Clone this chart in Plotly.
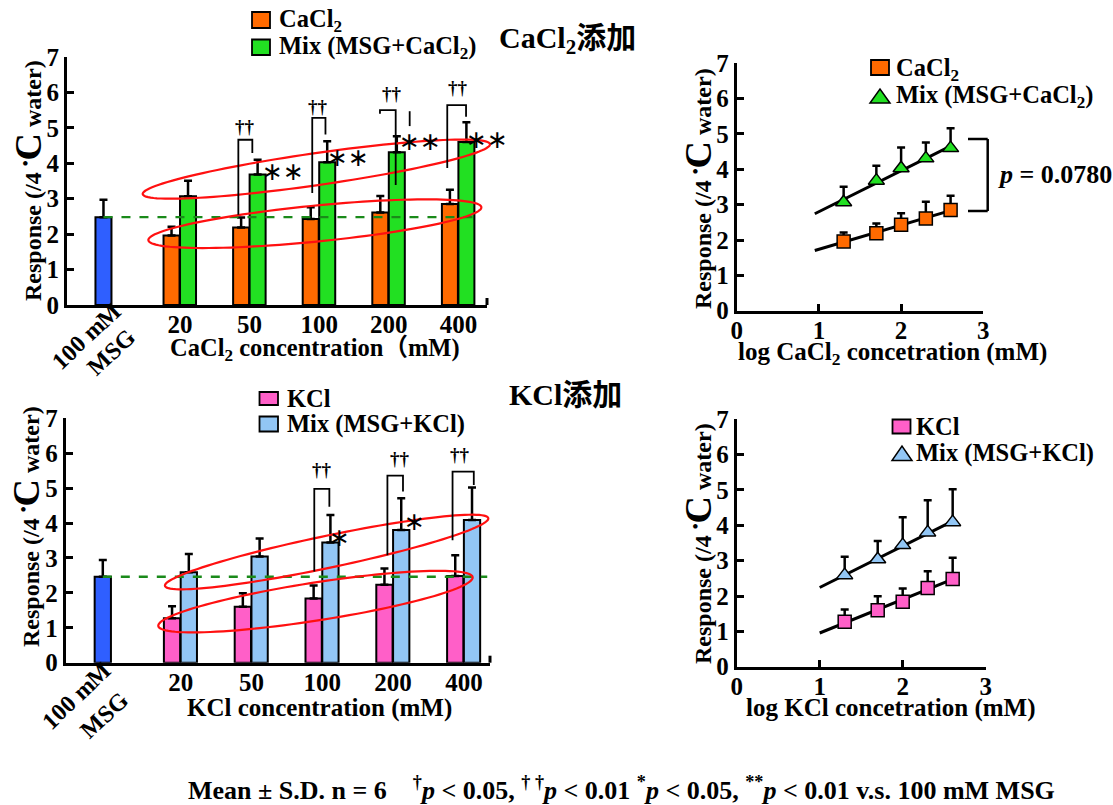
import numpy as np
import plotly.graph_objects as go

W, H = 1113, 805
FONT = "Liberation Serif, Times New Roman, Noto Sans CJK JP, serif"
STARFONT = "DejaVu Sans, Liberation Sans, sans-serif"

# ---------------- data ----------------
conc_labels = ["20", "50", "100", "200", "400"]
conc_mM = [20, 50, 100, 200, 400]
msg_label_lines = ["100 mM", "MSG"]

msg_ca_mean, msg_ca_sd = 2.48, 0.49
cacl2_mean = [1.96, 2.19, 2.43, 2.61, 2.85]
cacl2_sd = [0.25, 0.28, 0.33, 0.47, 0.40]
mix_ca_mean = [3.07, 3.68, 4.03, 4.31, 4.60]
mix_ca_sd = [0.44, 0.42, 0.59, 0.45, 0.56]

msg_k_mean, msg_k_sd = 2.46, 0.48
kcl_mean = [1.27, 1.60, 1.84, 2.23, 2.48]
kcl_sd = [0.35, 0.39, 0.37, 0.47, 0.60]
mix_k_mean = [2.59, 3.04, 3.44, 3.80, 4.09]
mix_k_sd = [0.52, 0.52, 0.79, 0.91, 0.93]

ca_dagger = ["", "††", "††", "††", "††"]
ca_star = ["", "∗∗", "∗∗", "∗∗", "∗∗"]
k_dagger = ["", "", "††", "††", "††"]
k_star = ["", "", "∗", "∗", "∗∗"]
p_value_ca = "0.0780"

# ---------------- colours ----------------
C_MSG = "#2f5fff"
C_CA = "#ff6a00"
C_MIXCA = "#22e022"
C_K = "#ff5fc8"
C_MIXK = "#92c6f5"

# ---------------- panel geometry (pixels) ----------------
panels = {
    "tl": dict(px=(67, 487), py=(305, 57), xr=(-0.624, 5.411), yr=(0, 7), ax=("x", "y")),
    "tr": dict(px=(736.7, 983.3), py=(310.7, 63.3), xr=(0, 3), yr=(0, 7), ax=("x2", "y2")),
    "bl": dict(px=(65.7, 490), py=(662.7, 418.3), xr=(-0.624, 5.369), yr=(0, 7), ax=("x3", "y3")),
    "br": dict(px=(736.7, 985.7), py=(666.7, 419.3), xr=(0, 3), yr=(0, 7), ax=("x4", "y4")),
}


def d2px(p, x, y):
    P = panels[p]
    xp = P["px"][0] + (x - P["xr"][0]) / (P["xr"][1] - P["xr"][0]) * (P["px"][1] - P["px"][0])
    yp = P["py"][0] + (y - P["yr"][0]) / (P["yr"][1] - P["yr"][0]) * (P["py"][1] - P["py"][0])
    return xp, yp


def px2paper(xp, yp):
    return xp / W, 1 - yp / H


fig = go.Figure()
shapes = []
annotations = []


def ann(text, x, y, size=25, xref="paper", yref="paper", xanchor="center", yanchor="middle",
        angle=0, family=FONT, bold=True):
    if xref == "paper":
        x, y = px2paper(x, y)
    annotations.append(dict(text=text, x=x, y=y, xref=xref, yref=yref, xanchor=xanchor,
                            yanchor=yanchor, showarrow=False, textangle=angle,
                            font=dict(size=size, family=family, color="black",
                                      weight="bold" if bold else "normal")))


CHAR_W = {"1": 0.5, "0": 0.5, " ": 0.25, "m": 0.833, "M": 0.944, "S": 0.556, "G": 0.778}


def diag_text(text, cx, cy, size, angle_deg):
    """Slanted label: each glyph placed (and turned) along a rising baseline."""
    th = np.radians(angle_deg)
    d = np.array([np.cos(th), -np.sin(th)])
    adv = [CHAR_W.get(c, 0.55) * size for c in text]
    s = -sum(adv) / 2
    for c, a in zip(text, adv):
        mid = s + a / 2
        s += a
        if c == " ":
            continue
        ann(c, cx + mid * d[0], cy + mid * d[1], size=size, angle=-angle_deg)


def line_px(x0, y0, x1, y1, color="black", width=2, dash=None):
    a, b = px2paper(x0, y0)
    c, d = px2paper(x1, y1)
    shapes.append(dict(type="line", xref="paper", yref="paper", x0=a, y0=b, x1=c, y1=d,
                       line=dict(color=color, width=width, dash=dash)))


def ellipse(p, left, right, b):
    x0, y0 = d2px(p, *left)
    x1, y1 = d2px(p, *right)
    cx, cy = (x0 + x1) / 2, (y0 + y1) / 2
    a = np.hypot(x1 - x0, y1 - y0) / 2
    th = np.arctan2(y1 - y0, x1 - x0)
    t = np.linspace(0, 2 * np.pi, 120)
    xs = cx + a * np.cos(t) * np.cos(th) - b * np.sin(t) * np.sin(th)
    ys = cy + a * np.cos(t) * np.sin(th) + b * np.sin(t) * np.cos(th)
    pts = [px2paper(u, v) for u, v in zip(xs, ys)]
    path = "M " + " L ".join(f"{u:.5f},{v:.5f}" for u, v in pts) + " Z"
    shapes.append(dict(type="path", xref="paper", yref="paper", path=path,
                       line=dict(color="#ff1010", width=2.2)))


def bracket(p, xl, xr, top, lb, rb):
    xa, ya = panels[p]["ax"]
    path = f"M {xl},{lb} L {xl},{top} L {xr},{top} L {xr},{rb}"
    shapes.append(dict(type="path", xref=xa, yref=ya, path=path, line=dict(color="black", width=1.8)))


def err(sd):
    return dict(type="data", symmetric=False, array=sd, arrayminus=[0] * len(sd),
                color="black", thickness=2.5, width=4)


# ---------------- bar panels ----------------
pos = np.arange(1, 6)
msg_pos = -0.1


def bar_panel(p, msg_m, msg_s, a_m, a_s, b_m, b_s, ca, cb):
    xa, ya = panels[p]["ax"]
    fig.add_trace(go.Bar(x=[msg_pos], y=[msg_m], width=0.23, marker=dict(color=C_MSG, line=dict(color="black", width=2)),
                         error_y=err([msg_s]), xaxis=xa, yaxis=ya))
    fig.add_trace(go.Bar(x=pos - 0.122, y=a_m, width=0.23, marker=dict(color=ca, line=dict(color="black", width=2)),
                         error_y=err(a_s), xaxis=xa, yaxis=ya))
    fig.add_trace(go.Bar(x=pos + 0.115, y=b_m, width=0.23, marker=dict(color=cb, line=dict(color="black", width=2)),
                         error_y=err(b_s), xaxis=xa, yaxis=ya))
    shapes.append(dict(type="line", xref=xa, yref=ya, x0=msg_pos, x1=5.33, y0=msg_m, y1=msg_m,
                       line=dict(color="#1a8a1a", width=2.4, dash="dash"), layer="above"))


bar_panel("tl", msg_ca_mean, msg_ca_sd, cacl2_mean, cacl2_sd, mix_ca_mean, mix_ca_sd, C_CA, C_MIXCA)
bar_panel("bl", msg_k_mean, msg_k_sd, kcl_mean, kcl_sd, mix_k_mean, mix_k_sd, C_K, C_MIXK)

# slanted control-bar labels
diag_text(msg_label_lines[0], 86.5, 336, 24, 43.5)
diag_text(msg_label_lines[1], 111, 352, 24, 43.5)
diag_text(msg_label_lines[0], 76.5, 695.5, 24, 43.5)
diag_text(msg_label_lines[1], 104, 715, 24, 43.5)

# ellipses
ellipse("tl", (0.464, 3.13), (5.454, 4.54), 16)
ellipse("tl", (0.545, 1.83), (5.33, 2.76), 18)
ellipse("bl", (0.778, 2.20), (5.345, 4.14), 16)
ellipse("bl", (0.684, 1.05), (5.124, 2.45), 19)

# significance brackets
bracket("tl", 1.838, 2.039, 4.665, 2.545, 4.29)
bracket("tl", 2.90, 3.09, 5.28, 3.16, 4.81)
bracket("tl", 3.873, 4.099, 5.50, 5.40, 3.39)
shapes.append(dict(type="line", xref="x", yref="y", x0=4.30, x1=4.30, y0=5.47, y1=5.05,
                   line=dict(color="black", width=1.8)))
bracket("tl", 4.84, 5.11, 5.64, 3.87, 5.31)
for dg, st, dpos, spos in zip(ca_dagger, ca_star,
                              [None, (1.93, 5.04), (2.98, 5.61), (4.04, 5.98), (5.0, 6.13)],
                              [None, (2.48, 3.77), (3.42, 4.16), (4.45, 4.62), (5.41, 4.67)]):
    if dg:
        ann(dg, dpos[0], dpos[1], size=19, xref="x", yref="y")
    if st:
        ann(st, spos[0], spos[1], size=25, xref="x", yref="y", family=STARFONT, bold=False)

bracket("bl", 2.887, 3.10, 4.98, 2.61, 4.47)
bracket("bl", 3.92, 4.14, 5.36, 3.08, 4.90)
bracket("bl", 4.84, 5.14, 5.47, 3.51, 5.09)
for dg, st, dpos, spos in zip(k_dagger, k_star,
                              [None, None, (3.0, 5.52), (4.1, 5.85), (4.95, 5.95)],
                              [None, None, (3.25, 3.59), (4.3, 4.04), (5.44, 4.23)]):
    if dg:
        ann(dg, dpos[0], dpos[1], size=19, xref="x3", yref="y3")
    if st:
        ann(st, spos[0], spos[1], size=25, xref="x3", yref="y3", family=STARFONT, bold=False)

# right-end tick marks of bar x axes
line_px(487, 305, 487, 298, width=3)
line_px(490, 662.7, 490, 655.7, width=3)

# ---------------- scatter panels ----------------
logc = np.log10(conc_mM)


def scatter_panel(p, a_m, a_s, b_m, b_s, ca, cb, x0):
    xa, ya = panels[p]["ax"]
    for m, s, sym, col in ((a_m, a_s, "square", ca), (b_m, b_s, "triangle-up", cb)):
        k, c = np.polyfit(logc, m, 1)
        xl = np.array([x0, 2.62])
        fig.add_trace(go.Scatter(x=xl, y=k * xl + c, mode="lines", line=dict(color="black", width=3),
                                 xaxis=xa, yaxis=ya))
        fig.add_trace(go.Scatter(x=logc, y=m, mode="markers", error_y=err(s),
                                 marker=dict(symbol=sym, size=13 if sym == "square" else 14, color=col,
                                             line=dict(color="black", width=1.5)),
                                 xaxis=xa, yaxis=ya, cliponaxis=False))


scatter_panel("tr", cacl2_mean, cacl2_sd, mix_ca_mean, mix_ca_sd, C_CA, C_MIXCA, 0.95)
scatter_panel("br", kcl_mean, kcl_sd, mix_k_mean, mix_k_sd, C_K, C_MIXK, 1.0)

# p-value bracket
line_px(987.7, 139, 987.7, 211, width=2.5)
line_px(968, 139, 987.7, 139, width=2.5)
line_px(968, 211, 987.7, 211, width=2.5)
ann(f"<i>p</i> = {p_value_ca}", 996, 175, size=26, xanchor="left")


# ---------------- legends ----------------
def rect_px(x0, y0, x1, y1, color):
    a, b = px2paper(x0, y0)
    c, d = px2paper(x1, y1)
    shapes.append(dict(type="rect", xref="paper", yref="paper", x0=a, y0=b, x1=c, y1=d,
                       fillcolor=color, line=dict(color="black", width=1.8)))


def tri_px(x0, y0, x1, y1, color):
    pts = [px2paper(x0, y1), px2paper(x1, y1), px2paper((x0 + x1) / 2, y0)]
    path = "M " + " L ".join(f"{u:.5f},{v:.5f}" for u, v in pts) + " Z"
    shapes.append(dict(type="path", xref="paper", yref="paper", path=path,
                       fillcolor=color, line=dict(color="black", width=1.5)))


LEG = 24.5
rect_px(252, 12, 270, 28, C_CA)
rect_px(252, 39.5, 270, 55, C_MIXCA)
ann("CaCl<sub>2</sub>", 277, 21, size=LEG, xanchor="left")
ann("Mix (MSG+CaCl<sub>2</sub>)", 277, 48, size=LEG, xanchor="left")

rect_px(259.5, 392, 278, 405, C_K)
rect_px(259.5, 416.5, 278, 431.5, C_MIXK)
ann("KCl", 285, 398, size=LEG, xanchor="left")
ann("Mix (MSG+KCl)", 285, 424, size=LEG, xanchor="left")

rect_px(871, 60, 889, 75, C_CA)
tri_px(870, 89, 890, 103, C_MIXCA)
ann("CaCl<sub>2</sub>", 894, 69, size=LEG, xanchor="left")
ann("Mix (MSG+CaCl<sub>2</sub>)", 894, 97, size=LEG, xanchor="left")

rect_px(892.5, 419.5, 910.5, 433.5, C_K)
tri_px(892, 446, 912, 460.5, C_MIXK)
ann("KCl", 914, 426, size=LEG, xanchor="left")
ann("Mix (MSG+KCl)", 914, 453, size=LEG, xanchor="left")

# ---------------- titles / axis titles ----------------
ytitle = "Response (/4 <sup>•</sup>\u200b<span style='font-size:38px'>C</span> water)"
ann(ytitle, 28, 181, size=24, angle=-90)
ann(ytitle, 26, 527, size=24, angle=-90)
ann(ytitle, 698, 189, size=24, angle=-90)
ann(ytitle, 698, 544, size=24, angle=-90)

ann("CaCl<sub>2</sub> concentration（mM)", 315, 349, size=24.5)
ann("KCl concentration (mM)", 319, 708, size=25)
ann("log CaCl<sub>2</sub> concetration (mM)", 892, 353, size=25)
ann("log KCl concetration (mM)", 891, 708, size=25)

ann("CaCl<sub>2</sub>添加", 567, 40, size=30)
ann("KCl添加", 565, 395, size=30)

ann("Mean ± S.D. n = 6 &nbsp;&nbsp; <sup>†</sup><i>p</i> &lt; 0.05, <sup>† †</sup><i>p</i> &lt; 0.01 "
    "<sup>*</sup><i>p</i> &lt; 0.05, <sup>**</sup><i>p</i> &lt; 0.01 v.s. 100 mM MSG", 621, 788, size=26)

# ---------------- axes ----------------
tickfont = dict(size=25, family=FONT, color="black", weight="bold")
common = dict(showgrid=False, zeroline=False, showline=True, linecolor="black", linewidth=3,
              tickfont=tickfont, fixedrange=True, automargin=False)

layout_axes = {}
for key, name in (("tl", ""), ("tr", "2"), ("bl", "3"), ("br", "4")):
    P = panels[key]
    xd = [P["px"][0] / W, P["px"][1] / W]
    yd = [1 - P["py"][0] / H, 1 - P["py"][1] / H]
    xa = dict(common, domain=xd, range=list(P["xr"]), anchor="y" + name, ticklabelstandoff=-5)
    ya = dict(common, domain=yd, range=list(P["yr"]), anchor="x" + name, tickvals=list(range(8)),
              ticks="inside", ticklen=7, tickwidth=3, tickcolor="black")
    if key in ("tl", "bl"):
        xa.update(tickvals=list(pos), ticktext=conc_labels, ticks="")
    else:
        xa.update(tickvals=[0, 1, 2, 3], ticks="inside", ticklen=7, tickwidth=3, tickcolor="black")
    layout_axes["xaxis" + name] = xa
    layout_axes["yaxis" + name] = ya

fig.update_layout(
    width=W, height=H, margin=dict(l=0, r=0, t=0, b=0, pad=0, autoexpand=False),
    paper_bgcolor="white", plot_bgcolor="white",
    showlegend=False, barmode="overlay",
    shapes=shapes, annotations=annotations,
    font=dict(family=FONT, color="black"),
    **layout_axes,
)

fig.write_html("out.html", config={"displayModeBar": False},
               post_script="document.body.style.margin='0px';document.body.style.overflow='hidden';")
